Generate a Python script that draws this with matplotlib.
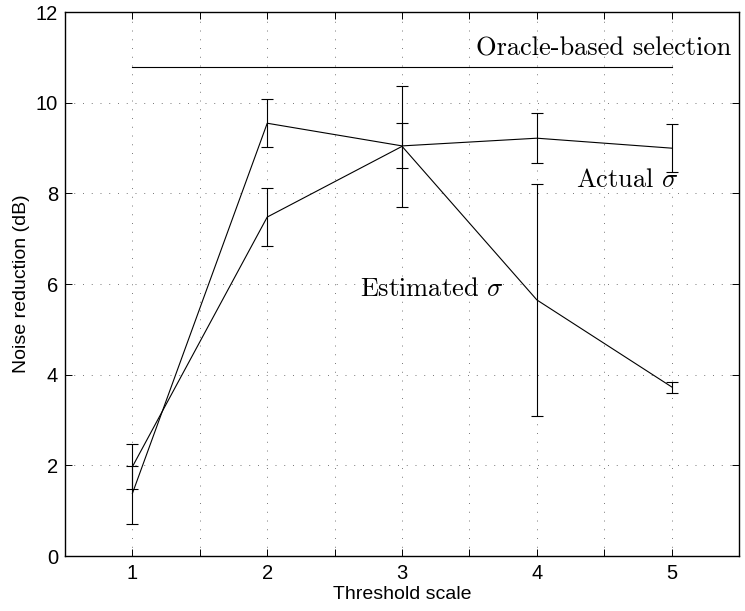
import matplotlib
matplotlib.use("Agg")
import matplotlib.pyplot as plt
import numpy as np

plt.rcParams['mathtext.fontset'] = 'cm'

x = [1, 2, 3, 4, 5]
actual = [1.38, 9.55, 9.05, 9.22, 9.00]
actual_lo = [0.71, 9.02, 8.57, 8.67, 8.47]
actual_hi = [1.98, 10.08, 9.56, 9.78, 9.53]
estimated = [1.97, 7.48, 9.04, 5.65, 3.73]
estimated_lo = [1.48, 6.84, 7.71, 3.09, 3.60]
estimated_hi = [2.47, 8.12, 10.38, 8.21, 3.85]
oracle = 10.8

xticks = [1, 1.5, 2, 2.5, 3, 3.5, 4, 4.5, 5]
xticklabels = ['1', '', '2', '', '3', '', '4', '', '5']
yticks = [0, 2, 4, 6, 8, 10, 12]

fig = plt.figure(figsize=(7.45, 6.11), dpi=100)
ax = fig.add_axes([0.0872, 0.09, 0.905, 0.89])

lw = 0.8
a = np.array(actual)
e = np.array(estimated)
ax.errorbar(x, actual, yerr=[a - np.array(actual_lo), np.array(actual_hi) - a],
            color='black', lw=lw, elinewidth=lw, capsize=4.3, capthick=lw)
ax.errorbar(x, estimated, yerr=[e - np.array(estimated_lo), np.array(estimated_hi) - e],
            color='black', lw=lw, elinewidth=lw, capsize=4.3, capthick=lw)
ax.plot([x[0], x[-1]], [oracle, oracle], color='black', lw=lw)

ax.set_xlim(0.5, 5.5)
ax.set_ylim(0, 12)
ax.set_xticks(xticks)
ax.set_xticklabels(xticklabels)
ax.set_yticks(yticks)

ax.grid(True, linestyle=(0, (1, 8)), color='#777777', lw=0.7)
ax.tick_params(direction='in', top=True, right=True, length=5, width=0.7,
               labelsize=14.5)
ax.tick_params(axis='x', pad=6)
ax.tick_params(axis='y', pad=5)
for lab in ax.get_xticklabels() + ax.get_yticklabels():
    lab.set_family('Liberation Sans')
for s in ax.spines.values():
    s.set_linewidth(1.0)

ax.set_xlabel('Threshold scale', family='Liberation Sans', fontsize=14, labelpad=2)
ax.set_ylabel('Noise reduction (dB)', family='Liberation Sans', fontsize=14, labelpad=4)

ax.text(3.55, 11.2, 'Oracle-based selection', family='cmr10', fontsize=19, va='center', ha='left')
ax.text(4.29, 8.3, 'Actual $\\sigma$', family='cmr10', fontsize=19, va='center', ha='left')
ax.text(2.69, 5.9, 'Estimated $\\sigma$', family='cmr10', fontsize=19, va='center', ha='left')

fig.savefig('out.png', dpi=100)
